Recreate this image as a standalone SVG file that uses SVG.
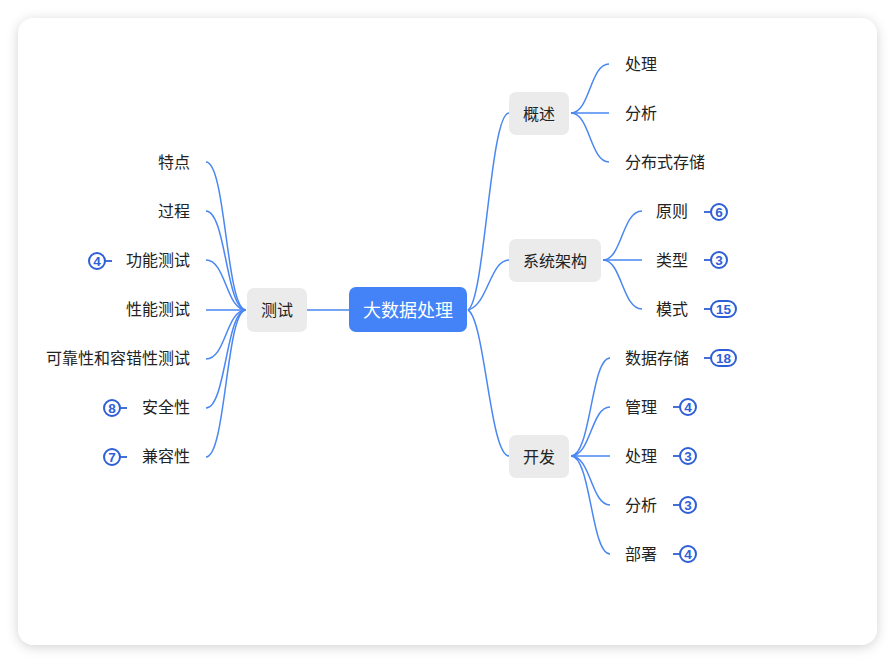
<svg xmlns="http://www.w3.org/2000/svg" width="895" height="663" viewBox="0 0 895 663">
<defs>
<filter id="sh" x="-10%" y="-10%" width="120%" height="120%">
<feDropShadow dx="0" dy="2" stdDeviation="6" flood-color="#000" flood-opacity="0.18"/>
</filter>
<style>
text{font-family:"Noto Sans CJK SC","Noto Sans",sans-serif;dominant-baseline:central}
.leaf{font-size:16px;fill:#222}
.br{font-size:16px;fill:#222;text-anchor:middle}
.bbox{fill:#EBEBEB}
.c{fill:none;stroke:#4A87F2;stroke-width:1.5}
.bl{stroke:#2F5FD6;stroke-width:1.8;fill:none}
.bc{fill:#fff;stroke:#2F5FD6;stroke-width:2}
.bt{font-family:"Liberation Sans",Arial,sans-serif;font-size:13.5px;font-weight:bold;fill:#2F5FD6;text-anchor:middle}
.r{text-anchor:end}
</style>
</defs>
<rect width="895" height="663" fill="#fff"/>
<rect x="18" y="18" width="859" height="627" rx="16" fill="#fff" filter="url(#sh)"/>
<g id="connectors">
<path class="c" d="M307 310 L349 310"/>
<path class="c" d="M468 310 C485 300 490 113 509 113"/>
<path class="c" d="M468 310 C488 305 490 260 509 260"/>
<path class="c" d="M468 310 C485 320 490 456 509 456"/>
<path class="c" d="M571 113 C590 113 590 64 609 64"/>
<path class="c" d="M571 113 L609 113"/>
<path class="c" d="M571 113 C590 113 590 162 609 162"/>
<path class="c" d="M603 260 C622 260 622 211 642 211"/>
<path class="c" d="M603 260 L642 260"/>
<path class="c" d="M603 260 C622 260 622 309 642 309"/>
<path class="c" d="M571 456 C591 456 591 358 610 358"/>
<path class="c" d="M571 456 C591 456 591 407 610 407"/>
<path class="c" d="M571 456 L610 456"/>
<path class="c" d="M571 456 C591 456 591 505 610 505"/>
<path class="c" d="M571 456 C591 456 591 554 610 554"/>
<path class="c" d="M206 162 C226 162 226 310 246 310"/>
<path class="c" d="M206 211 C226 211 226 310 246 310"/>
<path class="c" d="M206 260 C226 260 226 310 246 310"/>
<path class="c" d="M206 310 L246 310"/>
<path class="c" d="M206 359 C226 359 226 310 246 310"/>
<path class="c" d="M206 408 C226 408 226 310 246 310"/>
<path class="c" d="M206 457 C226 457 226 310 246 310"/>
</g>
<g id="root">
<rect x="349" y="287" width="118" height="45" rx="7" fill="#4382F7"/>
<text x="408" y="309" font-size="18" fill="#fff" text-anchor="middle">大数据处理</text>
</g>
<g id="n-ceshi"><rect class="bbox" x="247" y="288" width="60" height="44" rx="7"/><text class="br" x="277" y="309">测试</text></g>
<g id="n-gaishu"><rect class="bbox" x="509" y="92" width="60" height="43" rx="7"/><text class="br" x="539" y="112.5">概述</text></g>
<g id="n-xitong"><rect class="bbox" x="509" y="239" width="92" height="43" rx="7"/><text class="br" x="555" y="259.5">系统架构</text></g>
<g id="n-kaifa"><rect class="bbox" x="509" y="435" width="60" height="43" rx="7"/><text class="br" x="539" y="455.5">开发</text></g>
<g id="l-chuli1"><text class="leaf" x="625" y="63">处理</text></g>
<g id="l-fenxi1"><text class="leaf" x="625" y="112">分析</text></g>
<g id="l-fenbu"><text class="leaf" x="625" y="161">分布式存储</text></g>
<g id="l-yuanze"><text class="leaf" x="656" y="210">原则</text><path class="bl" d="M704 212 H711"/><circle class="bc" cx="719" cy="212" r="8"/><text class="bt" x="719" y="212.5">6</text></g>
<g id="l-leixing"><text class="leaf" x="656" y="259">类型</text><path class="bl" d="M704 260 H711"/><circle class="bc" cx="719" cy="260" r="8"/><text class="bt" x="719" y="260.5">3</text></g>
<g id="l-moshi"><text class="leaf" x="656" y="308">模式</text><path class="bl" d="M704 309 H711"/><rect class="bc" x="711" y="301" width="25" height="16" rx="8"/><text class="bt" x="723.5" y="309.5">15</text></g>
<g id="l-shuju"><text class="leaf" x="625" y="357">数据存储</text><path class="bl" d="M704 358 H711"/><rect class="bc" x="711" y="350" width="25" height="16" rx="8"/><text class="bt" x="723.5" y="358.5">18</text></g>
<g id="l-guanli"><text class="leaf" x="625" y="406">管理</text><path class="bl" d="M673 407 H680"/><circle class="bc" cx="688" cy="407" r="8"/><text class="bt" x="688" y="407.5">4</text></g>
<g id="l-chuli2"><text class="leaf" x="625" y="455">处理</text><path class="bl" d="M673 456 H680"/><circle class="bc" cx="688" cy="456" r="8"/><text class="bt" x="688" y="456.5">3</text></g>
<g id="l-fenxi2"><text class="leaf" x="625" y="504">分析</text><path class="bl" d="M673 505 H680"/><circle class="bc" cx="688" cy="505" r="8"/><text class="bt" x="688" y="505.5">3</text></g>
<g id="l-bushu"><text class="leaf" x="625" y="553">部署</text><path class="bl" d="M673 554 H680"/><circle class="bc" cx="688" cy="554" r="8"/><text class="bt" x="688" y="554.5">4</text></g>
<g id="l-tedian"><text class="leaf r" x="190" y="161">特点</text></g>
<g id="l-guocheng"><text class="leaf r" x="190" y="210">过程</text></g>
<g id="l-gongneng"><text class="leaf r" x="190" y="259">功能测试</text><path class="bl" d="M105 261 H112"/><circle class="bc" cx="97" cy="261" r="8"/><text class="bt" x="97" y="261.5">4</text></g>
<g id="l-xingneng"><text class="leaf r" x="190" y="308">性能测试</text></g>
<g id="l-kekao"><text class="leaf r" x="190" y="357">可靠性和容错性测试</text></g>
<g id="l-anquan"><text class="leaf r" x="190" y="406">安全性</text><path class="bl" d="M120 408 H127"/><circle class="bc" cx="112" cy="408" r="8"/><text class="bt" x="112" y="408.5">8</text></g>
<g id="l-jianrong"><text class="leaf r" x="190" y="455">兼容性</text><path class="bl" d="M120 457 H127"/><circle class="bc" cx="112" cy="457" r="8"/><text class="bt" x="112" y="457.5">7</text></g>
</svg>
